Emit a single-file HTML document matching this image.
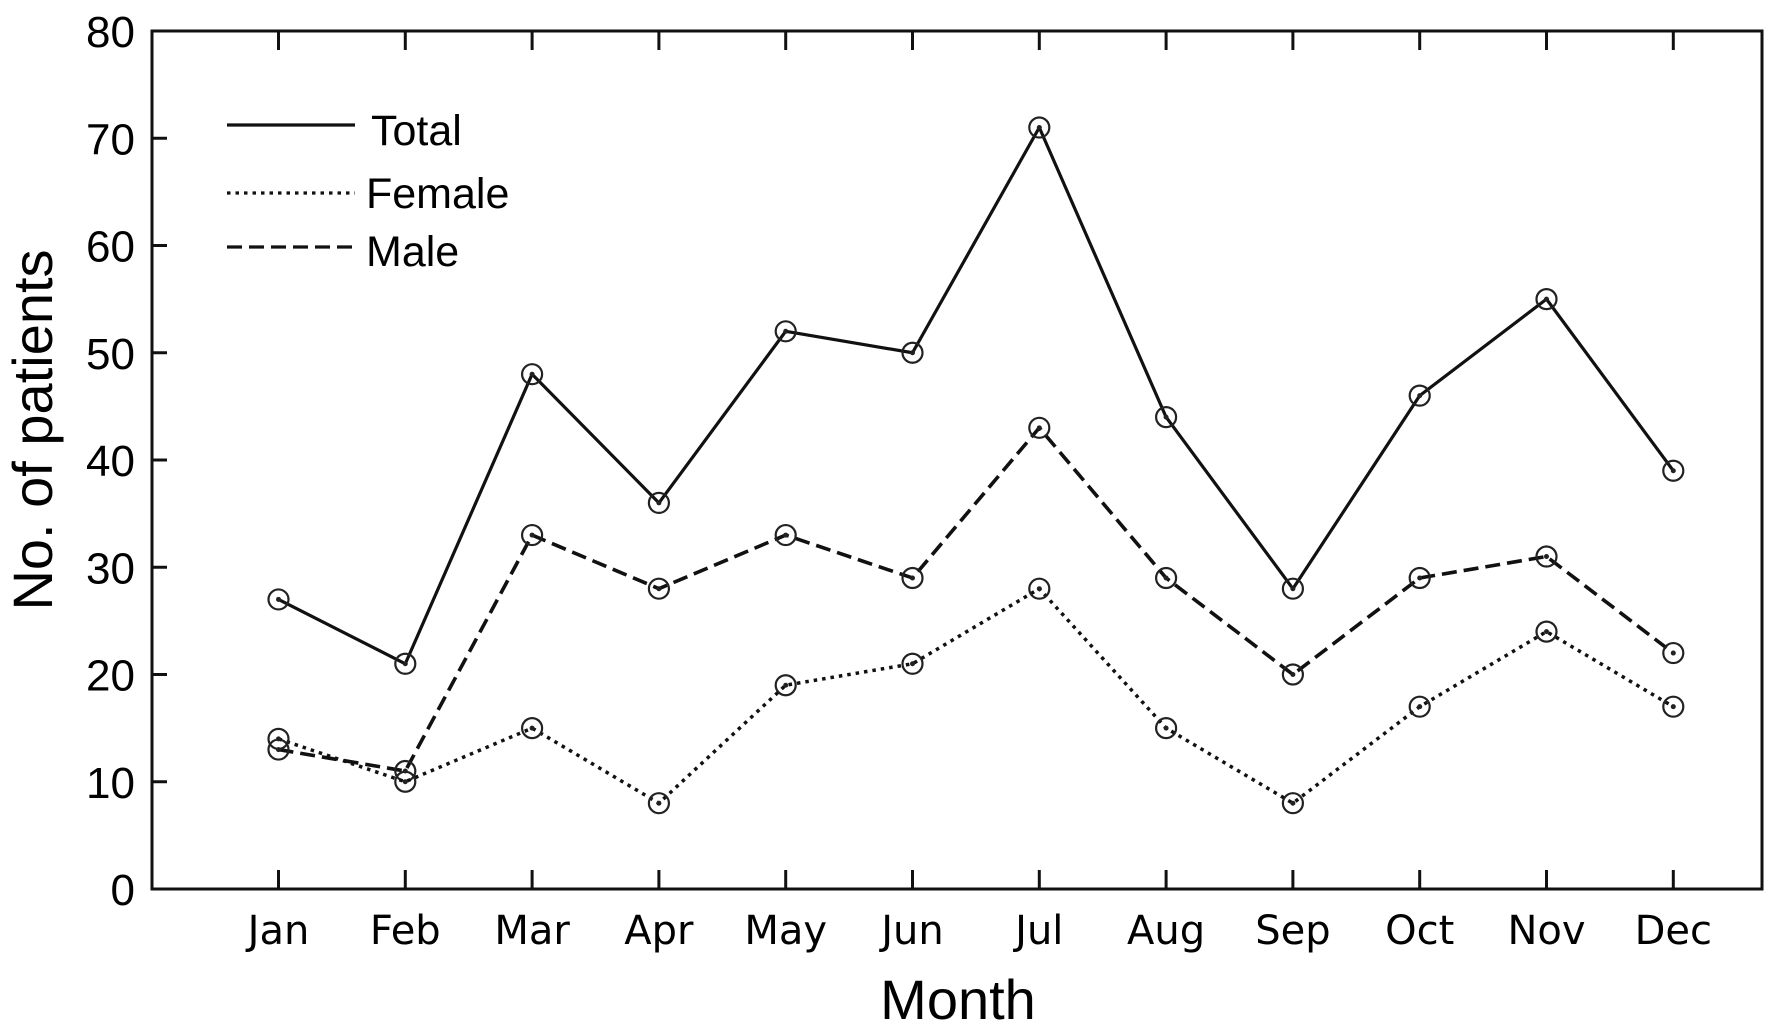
<!DOCTYPE html>
<html><head><meta charset="utf-8"><style>
html,body{margin:0;padding:0;background:#fff;}
svg{display:block;}
text{fill:#000;}
</style></head><body>
<svg id="chart" width="1780" height="1030" xmlns="http://www.w3.org/2000/svg">
<g id="axes"></g>
<g id="series"></g>
<g id="legend"></g>
<text x="958" y="1019" font-family="'Liberation Sans',sans-serif" font-size="56" text-anchor="middle">Month</text>
<text transform="translate(52,430) rotate(-90)" font-family="'Liberation Sans',sans-serif" font-size="56" text-anchor="middle">No. of patients</text>
</svg>
<script>
const months = ["Jan","Feb","Mar","Apr","May","Jun","Jul","Aug","Sep","Oct","Nov","Dec"];
const totalValues = [27,21,48,36,52,50,71,44,28,46,55,39];
const maleValues = [13,11,33,28,33,29,43,29,20,29,31,22];
const femaleValues = [14,10,15,8,19,21,28,15,8,17,24,17];
const yTicks = [0,10,20,30,40,50,60,70,80];

const NS = "http://www.w3.org/2000/svg";
const L = 152, R = 1762, T = 31, B = 889;
const yMax = 80;
function yScale(v){ return B - (B - T) * v / yMax; }
function xScale(i){ return 278.5 + i * 126.8; }
function mk(tag, attrs, parent){
  const e = document.createElementNS(NS, tag);
  for (const k in attrs) e.setAttribute(k, attrs[k]);
  parent.appendChild(e);
  return e;
}
const axes = document.getElementById('axes');
const frame = mk('rect', {x:L, y:T, width:R-L, height:B-T, fill:'none', stroke:'#111', 'stroke-width':3}, axes);


yTicks.forEach(v => {
  const y = yScale(v);
  const t = mk('line', {x1:L, x2:L+15, y1:y, y2:y, stroke:'#111', 'stroke-width':3}, axes);
  
  
  const lb = mk('text', {x:L-17, y:y+16, 'font-family':"'Liberation Sans',sans-serif", 'font-size':44, 'text-anchor':'end'}, axes);
  lb.textContent = v;
  
  
});
months.forEach((m, i) => {
  const x = xScale(i);
  const t = mk('line', {x1:x, x2:x, y1:B, y2:B-19, stroke:'#111', 'stroke-width':3}, axes);
  
  
  const t2 = mk('line', {x1:x, x2:x, y1:T, y2:T+19, stroke:'#111', 'stroke-width':3}, axes);
  
  
  const lb = mk('text', {x:x, y:944, 'font-family':"'DejaVu Sans','Liberation Sans',sans-serif", 'font-size':40, 'text-anchor':'middle'}, axes);
  lb.textContent = m;
  
  
});

const series = document.getElementById('series');
function drawSeries(vals, name, dash, width){
  const pts = vals.map((v, i) => xScale(i) + ',' + yScale(v)).join(' ');
  const pl = mk('polyline', {points:pts, fill:'none', stroke:'#111', 'stroke-width':width, 'stroke-dasharray':dash, 'stroke-linejoin':'round'}, series);
  
  
  vals.forEach((v, i) => {
    const c = mk('circle', {cx:xScale(i), cy:yScale(v), r:10, fill:'none', stroke:'#222', 'stroke-width':2.2}, series);
    
    
    const d = mk('circle', {cx:xScale(i), cy:yScale(v), r:2.5, fill:'#222'}, series);
    
    
  });
}
drawSeries(totalValues, 'total', 'none', 3.2);
drawSeries(maleValues, 'male', '15,7', 3.6);
drawSeries(femaleValues, 'female', '3.5,5', 3.5);

const legend = document.getElementById('legend');
const entries = [["Total",'none',125,145],["Female",'3.5,5',193,208],["Male",'15,7',247,266]];
entries.forEach(([label, dash, ly, ty]) => {
  const l = mk('line', {x1:227, x2:355, y1:ly, y2:ly, stroke:'#111', 'stroke-width':3.2, 'stroke-dasharray':dash}, legend);
  
  
  const t = mk('text', {x: label === 'Total' ? 371 : 366, y:ty, 'font-family':"'Liberation Sans',sans-serif", 'font-size':43}, legend);
  t.textContent = label;
  
  
});
</script>
</body></html>
